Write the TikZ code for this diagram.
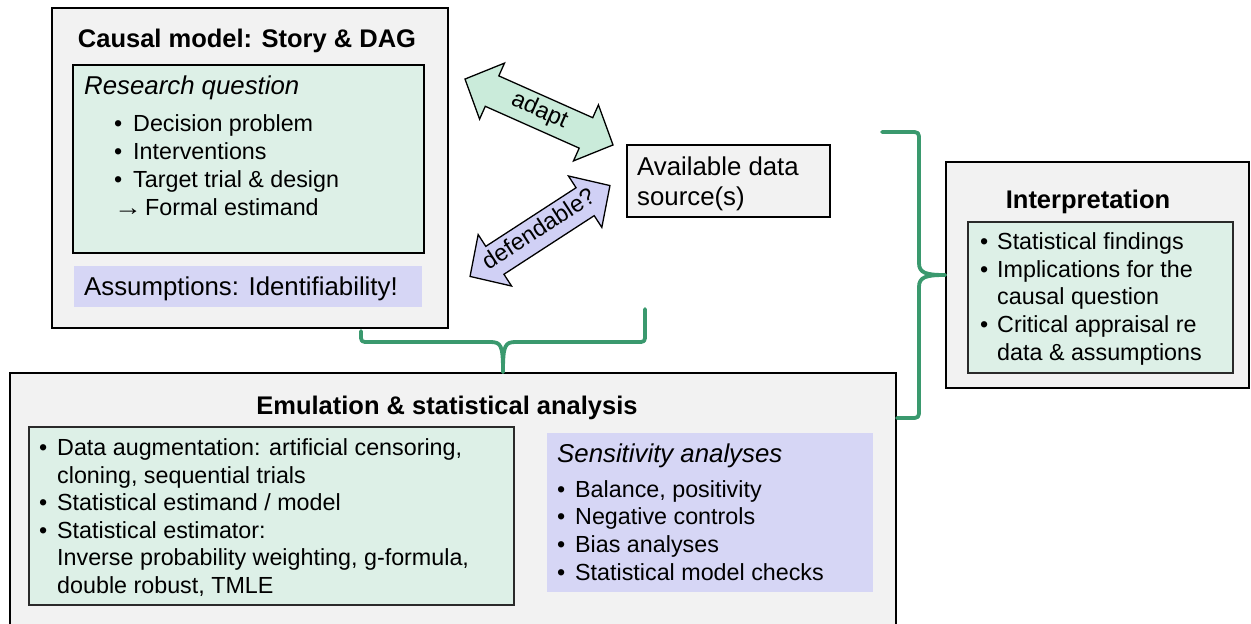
\documentclass[tikz,border=0pt]{standalone}
\usepackage{fontspec}
\usepackage{graphicx}
\setmainfont{Liberation Sans}
\usetikzlibrary{shapes.arrows}
\definecolor{boxgray}{HTML}{F2F2F2}
\definecolor{lgreen}{HTML}{DDF0E7}
\definecolor{lavender}{HTML}{D6D6F5}
\definecolor{agreen}{HTML}{CAEBDA}
\definecolor{alav}{HTML}{D0D0F5}
\definecolor{bracegreen}{HTML}{3A996E}
\definecolor{innerborder}{HTML}{2A2A2A}
\begin{document}
\begin{tikzpicture}[x=1pt,y=-1pt,
  outerbox/.style={draw=black, line width=2.4pt, fill=boxgray, inner sep=0pt},
  innerbox/.style={draw=innerborder, line width=1.3pt, fill=lgreen, inner sep=0pt},
  lavbox/.style={fill=lavender, inner sep=0pt},
  databox/.style={draw=black, line width=1.4pt, fill=boxgray, inner sep=0pt},
  txt/.style={inner sep=0pt, anchor=base west, font=\fontsize{23.3}{28}\selectfont},
  bul/.style={inner sep=0pt, anchor=base west, font=\fontsize{23.3}{28}\selectfont},
  head/.style={inner sep=0pt, anchor=base west, font=\fontsize{25.8}{31}\selectfont},
  ttl/.style={inner sep=0pt, anchor=base, font=\fontsize{25.5}{31}\selectfont\bfseries},
  darrow/.style={shape=double arrow, draw=black, line width=1.3pt,
    double arrow head extend=14pt, double arrow tip angle=92,
    inner xsep=2pt, inner ysep=5pt, text height=16pt, text depth=6pt,
    font=\fontsize{23.5}{28}\selectfont},
  brace/.style={draw=bracegreen, line width=3.8pt, line cap=round, line join=round}
]
\useasboundingbox (0,0) rectangle (1251,624);
\clip (0,0) rectangle (1251,624);

% ---------- Causal model box ----------
\node[outerbox, minimum width=396pt, minimum height=320pt] (causal) at (250,168) {};
\node[ttl] (causalttl) at (247,47) {Causal model: Story \& DAG};
\node[innerbox, draw=black, line width=2pt, minimum width=351pt, minimum height=188pt] (rq) at (248.5,159) {};
\node[head] (rqh) at (84,94) {\itshape Research question};
\node[bul] (rqb1) at (114,131) {•};
\node[txt] (rq1) at (133,131) {Decision problem};
\node[bul] (rqb2) at (114,159) {•};
\node[txt] (rq2) at (133,159) {Interventions};
\node[bul] (rqb3) at (114,187) {•};
\node[txt] (rq3) at (133,187) {Target trial \& design};
\node[txt] (rq4a) at (114,215) {\scalebox{1.2}[1]{→}};
\node[txt] (rq4) at (145,215) {Formal estimand};
\node[lavbox, minimum width=348pt, minimum height=41pt] (assum) at (248,286.5) {};
\node[head] (assumt) at (84,295) {Assumptions: Identifiability!};

% ---------- Data source ----------
\node[databox, minimum width=203pt, minimum height=72pt] (data) at (728.5,181) {};
\node[head] (data1) at (637,175) {Available data};
\node[head] (data2) at (637,205) {source(s)};

% ---------- Double arrows ----------
\node[darrow, fill=agreen, minimum height=162pt, rotate=-24] (adapt) at (539,112) {adapt};
\node[darrow, fill=alav, minimum height=165pt, rotate=33] (defend) at (540,231) {defendable?};

% ---------- Interpretation ----------
\node[outerbox, minimum width=303pt, minimum height=226pt] (interp) at (1097.5,275) {};
\node[ttl] (interpttl) at (1088,208) {Interpretation};
\node[innerbox, minimum width=265pt, minimum height=151pt] (interpin) at (1100.5,297.5) {};
\node[bul] (ib1) at (980,249) {•};
\node[txt] (i1) at (997,249) {Statistical findings};
\node[bul] (ib2) at (980,277) {•};
\node[txt] (i2) at (997,277) {Implications for the};
\node[txt] (i3) at (997,304) {causal question};
\node[bul] (ib3) at (980,332) {•};
\node[txt] (i4) at (997,332) {Critical appraisal re};
\node[txt] (i5) at (997,360) {data \& assumptions};

% ---------- Emulation ----------
\node[outerbox, minimum width=886pt, minimum height=277pt] (emul) at (453,511.5) {};
\node[ttl] (emulttl) at (447,414) {Emulation \& statistical analysis};
\node[innerbox, minimum width=485pt, minimum height=178pt] (emin) at (271.5,516) {};
\node[bul] (eb1) at (39,455) {•};
\node[txt] (e1) at (57,455) {Data augmentation: artificial censoring,};
\node[txt] (e2) at (57,483) {cloning, sequential trials};
\node[bul] (eb2) at (39,510) {•};
\node[txt] (e3) at (57,510) {Statistical estimand / model};
\node[bul] (eb3) at (39,538) {•};
\node[txt] (e4) at (57,538) {Statistical estimator:};
\node[txt] (e5) at (57,565) {Inverse probability weighting, g-formula,};
\node[txt] (e6) at (57,593) {double robust, TMLE};

\node[lavbox, minimum width=326pt, minimum height=159pt] (sens) at (710,512.5) {};
\node[head] (sensh) at (557,462) {\itshape Sensitivity analyses};
\node[bul] (sb1) at (557,497) {•};
\node[txt] (s1) at (575,497) {Balance, positivity};
\node[bul] (sb2) at (557,524) {•};
\node[txt] (s2) at (575,524) {Negative controls};
\node[bul] (sb3) at (557,552) {•};
\node[txt] (s3) at (575,552) {Bias analyses};
\node[bul] (sb4) at (557,580) {•};
\node[txt] (s4) at (575,580) {Statistical model checks};

% ---------- Braces ----------
\coordinate (bl) at (361,331);
\coordinate (br) at (645,309);
\coordinate (bc) at (503,372);
\draw[brace] (bl) -- (361,334) .. controls (361,342) .. (369,342) -- (490,342)
  .. controls (501,342) and (503,345) .. (bc);
\draw[brace] (br) -- (645,334) .. controls (645,342) .. (637,342) -- (516,342)
  .. controls (505,342) and (503,345) .. (bc);

\coordinate (rt) at (882,132);
\coordinate (rb) at (897,418);
\coordinate (rc) at (945,275);
\draw[brace] (rt) -- (910,132) .. controls (919,132) .. (919,141) -- (919,263)
  .. controls (919,273) and (926,275) .. (rc);
\draw[brace] (rb) -- (910,418) .. controls (919,418) .. (919,409) -- (919,287)
  .. controls (919,277) and (926,275) .. (rc);
\end{tikzpicture}
\end{document}
